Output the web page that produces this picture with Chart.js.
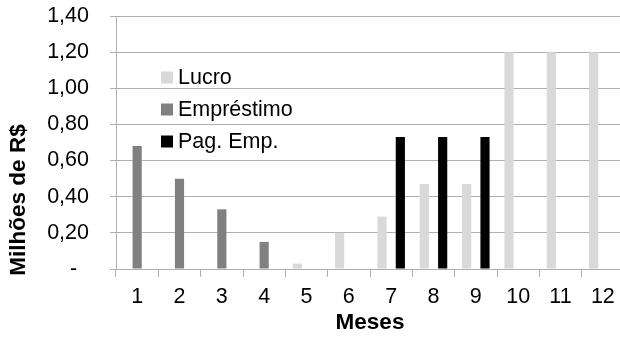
<!DOCTYPE html>
<html>
<head>
<meta charset="utf-8">
<script src="https://cdn.jsdelivr.net/npm/chart.js@4/dist/chart.umd.min.js"></script>
<style>
html,body{margin:0;padding:0;background:#fff;overflow:hidden;}
#wrap{position:relative;width:632px;height:341px;}
</style>
</head>
<body>
<div id="wrap"><canvas id="c"></canvas></div>
<script>
const months = ['1','2','3','4','5','6','7','8','9','10','11','12'];
const lucro = [null,null,null,null,0.03,0.20,0.29,0.47,0.47,1.20,1.20,1.20];
const emprestimo = [0.68,0.50,0.33,0.15,null,null,null,null,null,null,null,null];
const pagEmp = [null,null,null,null,null,null,0.73,0.73,0.73,null,null,null];
const seriesNames = ['Lucro','Empréstimo','Pag. Emp.'];
const yTitle = 'Milhões de R$';
const xTitle = 'Meses';

const FONT = '"Liberation Sans", Arial, sans-serif';
const GRID = '#b0b0b0';

const extrasPlugin = {
  id: 'extras',
  afterDraw(chart) {
    const ctx = chart.ctx;
    ctx.save();
    // legend inside plot
    ctx.font = '21.5px ' + FONT;
    ctx.textBaseline = 'middle';
    ctx.textAlign = 'left';
    const x0 = 161, y0 = 77.5, dy = 32;
    chart.data.datasets.forEach((ds, i) => {
      const y = y0 + i * dy;
      ctx.fillStyle = ds.backgroundColor;
      ctx.fillRect(x0, y - 6, 12, 12);
      ctx.fillStyle = '#000';
      ctx.fillText(ds.label, x0 + 17, y + 1);
    });
    // y axis title
    ctx.font = 'bold 22.5px ' + FONT;
    ctx.textAlign = 'center';
    ctx.textBaseline = 'middle';
    ctx.translate(19, 200);
    ctx.rotate(-Math.PI / 2);
    ctx.fillStyle = '#000';
    ctx.fillText(yTitle, 0, 0);
    ctx.restore();
  }
};

new Chart(document.getElementById('c'), {
  type: 'bar',
  data: {
    labels: months,
    datasets: [
      {label: seriesNames[0], data: lucro, backgroundColor: '#d9d9d9'},
      {label: seriesNames[1], data: emprestimo, backgroundColor: '#808080'},
      {label: seriesNames[2], data: pagEmp, backgroundColor: '#000000'}
    ]
  },
  options: {
    responsive: true,
    maintainAspectRatio: false,
    animation: false,
    devicePixelRatio: 1,
    layout: {padding: {top: 16, right: 8, left: 0, bottom: 0}},
    datasets: {bar: {barPercentage: 1, categoryPercentage: 0.65}},
    plugins: {legend: {display: false}, tooltip: {enabled: false}},
    scales: {
      x: {
        grid: {offset: true, drawOnChartArea: false, drawTicks: true, tickLength: 8, color: GRID},
        border: {color: GRID},
        ticks: {color: '#000', font: {family: FONT, size: 21.5}, padding: 7, maxRotation: 0},
        title: {display: true, text: xTitle, color: '#000', font: {family: FONT, size: 22.5, weight: 'bold'}, padding: {top: 0, bottom: 5}},
        afterFit(s) { s.height = 72; s.paddingLeft = 0; s.paddingRight = 0; }
      },
      y: {
        min: 0, max: 1.4,
        grid: {color: GRID, tickLength: 6},
        border: {color: GRID},
        ticks: {
          stepSize: 0.2, color: '#000', font: {family: FONT, size: 21.5}, padding: 21,
          callback: v => (Math.abs(v) < 1e-9 ? '-\u2007' : v.toFixed(2).replace('.', ','))
        },
        title: {display: false},
        afterFit(s) { s.width = 116; s.paddingTop = 0; s.paddingBottom = 0; }
      }
    }
  },
  plugins: [extrasPlugin]
});
</script>
</body>
</html>
